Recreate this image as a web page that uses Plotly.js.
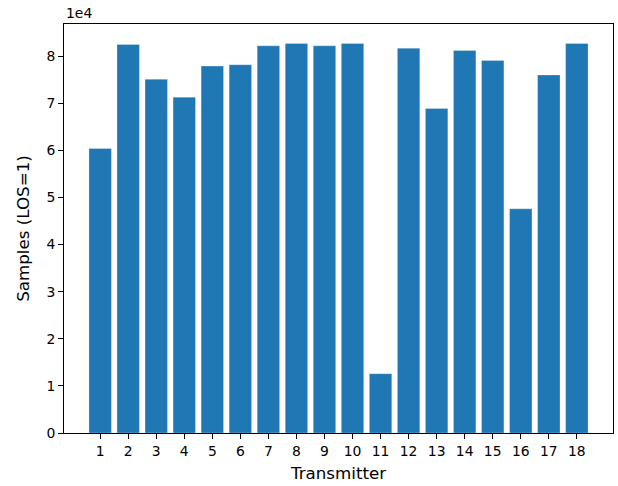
<!DOCTYPE html>
<html>
<head>
<meta charset="utf-8">
<script src="https://cdn.plot.ly/plotly-3.0.1.min.js"></script>
<style>
  html, body { margin: 0; padding: 0; background: #fff; }
  #chart { width: 618px; height: 486px; }
</style>
</head>
<body>
<div id="chart"></div>
<script>
// Number of line-of-sight samples per transmitter
const transmitters = [1, 2, 3, 4, 5, 6, 7, 8, 9, 10, 11, 12, 13, 14, 15, 16, 17, 18];
const losSamples = [60400, 82500, 75100, 71300, 77900, 78200, 82200, 82700, 82200,
                    82700, 12600, 81700, 68900, 81200, 79100, 47600, 76000, 82700];
const yTickVals = [0, 10000, 20000, 30000, 40000, 50000, 60000, 70000, 80000];
const yTickText = ['0', '1', '2', '3', '4', '5', '6', '7', '8'];

const font = 'DejaVu Sans, sans-serif';

const maxVal = Math.max(...losSamples);

Plotly.newPlot('chart', [{
  type: 'bar',
  x: transmitters,
  y: losSamples,
  width: 0.8,
  marker: { color: '#1f77b4', line: { color: 'rgba(255,255,255,0.35)', width: 0.8 } },
  hoverinfo: 'x+y'
}], {
  width: 618,
  height: 486,
  margin: { l: 64, r: 5, t: 24, b: 53 },
  paper_bgcolor: '#fff',
  plot_bgcolor: '#fff',
  showlegend: false,
  font: { family: font, size: 13.9, color: '#000' },
  xaxis: {
    range: [-0.29, 19.29],
    tickmode: 'array',
    tickvals: transmitters,
    ticktext: transmitters.map(String),
    ticks: 'outside', ticklen: 5, tickwidth: 1, tickcolor: '#000',
    showline: true, linecolor: '#000', linewidth: 1, mirror: true,
    showgrid: false, zeroline: false,
    tickfont: { family: font, size: 13.9, color: '#000' },
    title: { text: 'Transmitter', font: { family: font, size: 16.7, color: '#000' }, standoff: 9 }
  },
  yaxis: {
    range: [0, maxVal * 1.05],
    tickmode: 'array',
    tickvals: yTickVals,
    ticktext: yTickText,
    ticks: 'outside', ticklen: 5, tickwidth: 1, tickcolor: '#000',
    showline: true, linecolor: '#000', linewidth: 1, mirror: true,
    showgrid: false, zeroline: false,
    tickfont: { family: font, size: 13.9, color: '#000' },
    title: { text: 'Samples (LOS=1)', font: { family: font, size: 16.7, color: '#000' }, standoff: 12 }
  },
  annotations: [{
    text: '1e4',
    xref: 'paper', yref: 'paper',
    x: 0, y: 1, xanchor: 'left', yanchor: 'bottom',
    showarrow: false, yshift: 1,
    font: { family: font, size: 13.9, color: '#000' }
  }]
}, { displayModeBar: false, staticPlot: true });
</script>
</body>
</html>
